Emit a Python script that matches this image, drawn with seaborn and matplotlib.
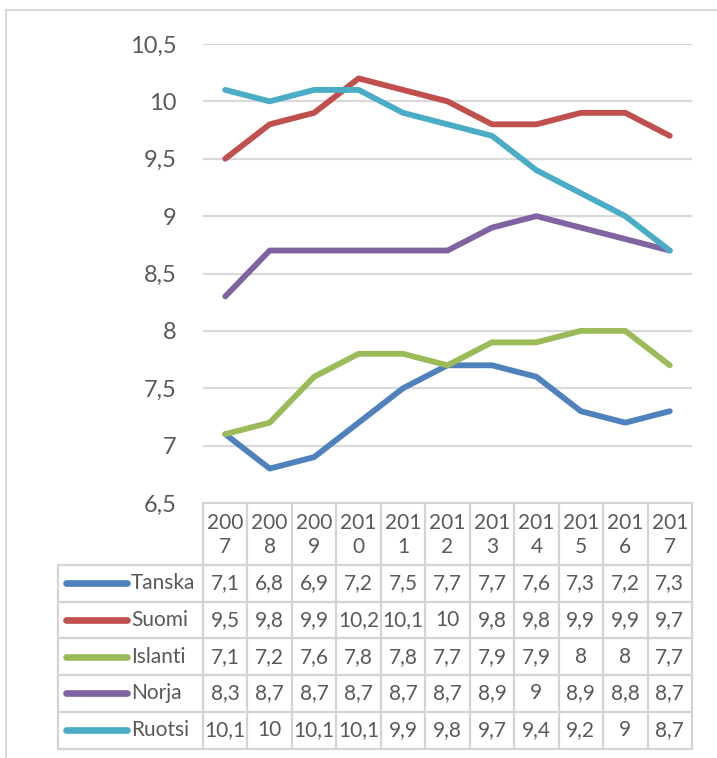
import matplotlib
matplotlib.use("Agg")
import matplotlib.pyplot as plt
import seaborn as sns
import pandas as pd

# Data: annual values per Nordic country
years = [2007, 2008, 2009, 2010, 2011, 2012, 2013, 2014, 2015, 2016, 2017]
countries = ["Tanska", "Suomi", "Islanti", "Norja", "Ruotsi"]
tanska = [7.1, 6.8, 6.9, 7.2, 7.5, 7.7, 7.7, 7.6, 7.3, 7.2, 7.3]
suomi = [9.5, 9.8, 9.9, 10.2, 10.1, 10.0, 9.8, 9.8, 9.9, 9.9, 9.7]
islanti = [7.1, 7.2, 7.6, 7.8, 7.8, 7.7, 7.9, 7.9, 8.0, 8.0, 7.7]
norja = [8.3, 8.7, 8.7, 8.7, 8.7, 8.7, 8.9, 9.0, 8.9, 8.8, 8.7]
ruotsi = [10.1, 10.0, 10.1, 10.1, 9.9, 9.8, 9.7, 9.4, 9.2, 9.0, 8.7]
series = [tanska, suomi, islanti, norja, ruotsi]
colors = ["#4F81BD", "#C0504D", "#9BBB59", "#8064A2", "#4BACC6"]
yticks = [6.5, 7, 7.5, 8, 8.5, 9, 9.5, 10, 10.5]

sns.set_theme(style="white")
plt.rcParams["font.family"] = ["Lato", "DejaVu Sans"]
TXT = "#595959"
GRID = "#D9D9D9"

df = pd.DataFrame(
    [(y, c, v) for c, vals in zip(countries, series) for y, v in zip(years, vals)],
    columns=["vuosi", "maa", "arvo"],
)

W, H = 717, 758
fig = plt.figure(figsize=(W / 100, H / 100), dpi=100)

# pixel layout of plot area and table
X0, X1 = 203, 692          # plot / table column span
Y_TOP, Y_BOT = 44, 503     # plot area top (10,5) and bottom (6,5)
ncol = len(years)
colw = (X1 - X0) / ncol
HDR_BOT = 565
ROW_H = 36.7
LEG_L = 58

ax = fig.add_axes([X0 / W, 1 - Y_BOT / H, (X1 - X0) / W, (Y_BOT - Y_TOP) / H])
sns.lineplot(data=df, x="vuosi", y="arvo", hue="maa", hue_order=countries,
             palette=colors, linewidth=4.2, legend=False, ax=ax,
             solid_capstyle="round", solid_joinstyle="round")
for ln in ax.lines:
    ln.set_clip_on(False)
ax.set_xlim(years[0] - 0.5, years[-1] + 0.5)
ax.set_ylim(6.5, 10.5)
ax.set_yticks(yticks)
ax.set_yticklabels([f"{t:g}".replace(".", ",") for t in yticks],
                   fontsize=17, color=TXT)
ax.tick_params(axis="y", length=0, pad=19)
ax.set_xticks([])
ax.set_xlabel("")
ax.set_ylabel("")
for s in ax.spines.values():
    s.set_visible(False)
for t in yticks[1:]:
    ax.axhline(t, color=GRID, lw=1.6, zorder=0)

# overlay in pixel coordinates for frame and data table
ov = fig.add_axes([0, 0, 1, 1], zorder=-1)
ov.set_xlim(0, W)
ov.set_ylim(H, 0)
ov.axis("off")

# outer chart frame
ov.plot([6, 6], [10, H + 5], color=GRID, lw=1.5)
ov.plot([6, W + 5], [10, 10], color=GRID, lw=1.5)

tb = fig.add_axes([0, 0, 1, 1])
tb.set_xlim(0, W)
tb.set_ylim(H, 0)
tb.axis("off")

n_rows = len(countries)
TAB_BOT = HDR_BOT + n_rows * ROW_H
bc = "#D4D4D4"
blw = 1.6
# horizontal borders
tb.plot([X0, X1], [Y_BOT, Y_BOT], color=bc, lw=blw)
for r in range(n_rows + 1):
    yy = HDR_BOT + r * ROW_H
    tb.plot([LEG_L, X1], [yy, yy], color=bc, lw=blw)
# vertical borders
tb.plot([LEG_L, LEG_L], [HDR_BOT, TAB_BOT], color=bc, lw=blw)
for c in range(ncol + 1):
    xx = X0 + c * colw
    tb.plot([xx, xx], [Y_BOT, TAB_BOT], color=bc, lw=blw)

# header: years split over two lines
for c, y in enumerate(years):
    s = str(y)
    tb.text(X0 + (c + 0.5) * colw, (Y_BOT + HDR_BOT) / 2 + 1, s[:3] + "\n" + s[3:],
            ha="center", va="center", fontsize=15, color=TXT, linespacing=1.2)

# body rows with legend keys
for r, (name, vals, col) in enumerate(zip(countries, series, colors)):
    yc = HDR_BOT + (r + 0.5) * ROW_H
    tb.plot([66, 127], [yc, yc], color=col, lw=4.8, solid_capstyle="round")
    tb.text(131, yc, name, ha="left", va="center", fontsize=15, color=TXT)
    for c, v in enumerate(vals):
        tb.text(X0 + (c + 0.5) * colw, yc, f"{v:g}".replace(".", ","),
                ha="center", va="center", fontsize=15, color=TXT)

fig.savefig("out.png", dpi=100, facecolor="white")
